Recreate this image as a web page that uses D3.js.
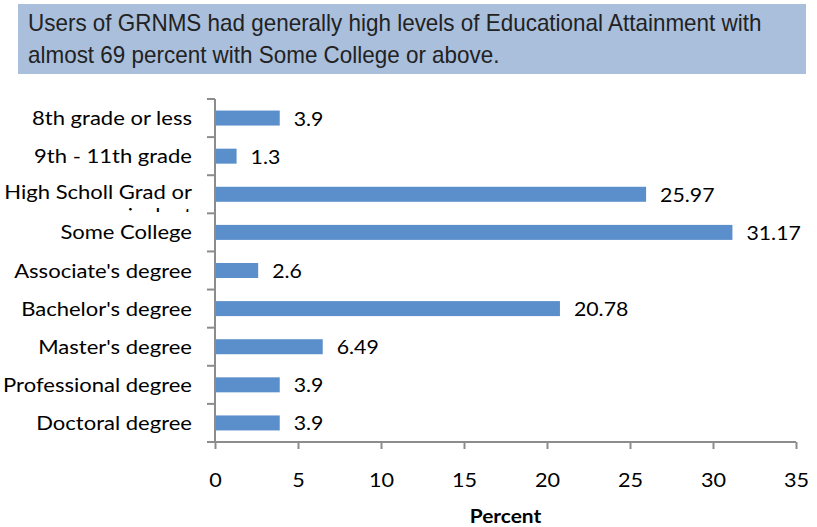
<!DOCTYPE html>
<html><head><meta charset="utf-8">
<script src="https://cdn.jsdelivr.net/npm/d3@7"></script>
<style>body{margin:0;background:#fff}svg{display:block}</style>
</head><body>
<svg id="c" width="817" height="527"></svg>
<script>
const categories = ["8th grade or less","9th - 11th grade","High Scholl Grad or|equivalent","Some College","Associate's degree","Bachelor's degree","Master's degree","Professional degree","Doctoral degree"];
const values = [3.9,1.3,25.97,31.17,2.6,20.78,6.49,3.9,3.9];
const xTicks = [0,5,10,15,20,25,30,35];
const titleLines = ["Users of GRNMS had generally high levels of Educational Attainment with","almost 69 percent with Some College or above."];

(function(){
const svg = d3.select("#c");
const font = "Lato, 'Open Sans', sans-serif";
const tfont = "'Liberation Sans', Arial, sans-serif";
function stretch(sel,k){
  sel.each(function(){
    const w=this.getComputedTextLength();
    d3.select(this).attr("textLength",w*k).attr("lengthAdjust","spacingAndGlyphs");
  });
}

svg.append("rect").attr("x",18).attr("y",4).attr("width",788).attr("height",70).attr("fill","#a9bfdc");
const tt = svg.append("g").selectAll("text").data(titleLines).join("text")
  .attr("x",28).attr("y",(d,i)=>31+i*32)
  .attr("font-family",tfont).attr("font-size",24).attr("fill","#222")
  .text(d=>d);
stretch(tt,0.935);

const pL=215, pR=796, pT=99, pB=442;
const x = d3.scaleLinear().domain([0,35]).range([pL,pR]);
const yb = d3.scaleBand().domain(categories).range([pT,pB]);

const gc="#8c8c8c";
svg.append("g").selectAll("rect").data(values).join("rect")
  .attr("x",x(0)).attr("y",(d,i)=>yb(categories[i])+yb.bandwidth()/2-7.5)
  .attr("width",d=>x(d)-x(0)).attr("height",15).attr("fill","#5b8fcb");

svg.append("line").attr("x1",pL).attr("x2",pL).attr("y1",pT).attr("y2",pB).attr("stroke",gc).attr("stroke-width",2);
const yt = d3.range(categories.length+1).map(i=>pT+i*yb.step());
svg.append("g").selectAll("line").data(yt).join("line")
  .attr("x1",pL-8).attr("x2",pL).attr("y1",d=>d).attr("y2",d=>d).attr("stroke",gc).attr("stroke-width",2);
const xa = d3.axisBottom(x).tickValues(xTicks).tickSize(7).tickPadding(24);
const gx = svg.append("g").attr("transform",`translate(0,${pB})`).call(xa);
gx.select(".domain").attr("stroke",gc).attr("stroke-width",2).attr("d",`M${pL-8},0H${pR}`);
gx.selectAll(".tick line").attr("stroke",gc).attr("stroke-width",2);
const tl = gx.selectAll(".tick text").attr("font-family",font).attr("font-size",20).attr("fill","#000").attr("dy",null).attr("y",45);
stretch(tl,1.08);

const defs = svg.append("defs");
defs.append("clipPath").attr("id","clipL").append("rect").attr("x",0).attr("y",175).attr("width",205).attr("height",37);
categories.forEach((c,i)=>{
  const lines=c.split("|");
  const cy=yb(c)+yb.bandwidth()/2;
  const g = svg.append("g");
  if(lines.length>1) g.attr("clip-path","url(#clipL)");
  lines.forEach((l,j)=>{
    const t=g.append("text").attr("x",192).attr("text-anchor","end")
      .attr("font-family",font).attr("font-size",18.5).attr("fill","#000")
      .attr("y",cy+7+(lines.length>1? -2 + j*23:0)).text(l);
    stretch(t,1.19);
  });
});

const vl = svg.append("g").selectAll("text").data(values).join("text")
  .attr("x",d=>x(d)+14).attr("y",(d,i)=>yb(categories[i])+yb.bandwidth()/2+7.5)
  .attr("font-family",font).attr("font-size",19).attr("fill","#000")
  .text(d=>d);
stretch(vl,1.12);

const pt = svg.append("text").attr("x",(pL+pR)/2).attr("y",523).attr("text-anchor","middle")
  .attr("font-family",font).attr("font-size",19).attr("font-weight","bold").text("Percent");
stretch(pt,1.1);
})();
</script>
</body></html>
